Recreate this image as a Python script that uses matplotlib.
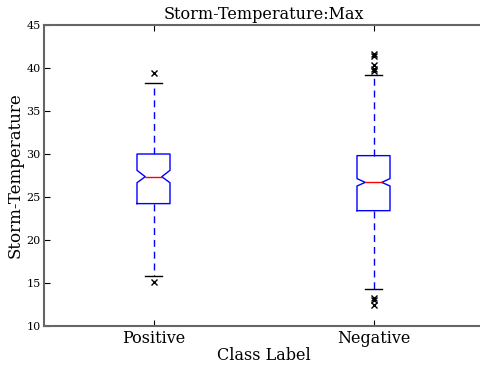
import matplotlib
matplotlib.use("Agg")
import matplotlib.pyplot as plt

plt.rcParams['font.family'] = ['DejaVu Serif']

classes = ["Positive", "Negative"]

# five-number summaries and notch limits per class
q1 = [24.23, 23.41]
medians = [27.36, 26.70]
q3 = [30.00, 29.81]
whisker_low = [15.85, 14.30]
whisker_high = [38.29, 39.22]
notch_low = [26.66, 26.28]
notch_high = [28.10, 27.14]
outliers_positive = [39.38, 15.15]
outliers_negative = [41.6, 41.4, 40.4, 39.9, 39.6, 13.3, 13.0, 12.4]

title = "Storm-Temperature:Max"
xlabel = "Class Label"
ylabel = "Storm-Temperature"
yticks = [10, 15, 20, 25, 30, 35, 40, 45]

outliers = [outliers_positive, outliers_negative]
stats = []
for i, name in enumerate(classes):
    stats.append(dict(label=name, q1=q1[i], med=medians[i], q3=q3[i],
                      whislo=whisker_low[i], whishi=whisker_high[i],
                      cilo=notch_low[i], cihi=notch_high[i],
                      fliers=outliers[i]))

fig = plt.figure(figsize=(4.8, 3.7), dpi=100)
ax = fig.add_axes([43.5 / 480, 44 / 370, 440 / 480, 301 / 370])

ax.bxp(stats, positions=[1, 2], widths=0.15, shownotches=True,
       boxprops=dict(color='blue', linewidth=1),
       whiskerprops=dict(color='blue', linestyle='--', linewidth=1, dashes=(5, 3.5)),
       capprops=dict(color='black', linewidth=1),
       medianprops=dict(color='red', linewidth=1),
       flierprops=dict(marker='x', markeredgecolor='black', markersize=5,
                       linestyle='none', markeredgewidth=1))

ax.set_xlim(0.5, 2.5)
ax.set_ylim(10, 45)
ax.set_yticks(yticks)
ax.set_xticks([1, 2])
ax.set_xticklabels(classes, fontsize=11.5)
ax.tick_params(axis='y', labelsize=8, direction='in', length=4, pad=2)
ax.tick_params(axis='x', direction='in', length=4, pad=3)
ax.tick_params(top=True, right=False, direction='in')
for s in ax.spines.values():
    s.set_color('#666666')
    s.set_linewidth(1.5)

ax.set_title(title, fontsize=11.5, pad=4)
ax.set_xlabel(xlabel, fontsize=11.5, labelpad=0)
ax.set_ylabel(ylabel, fontsize=12, labelpad=2)

fig.savefig("out.png", dpi=100)
